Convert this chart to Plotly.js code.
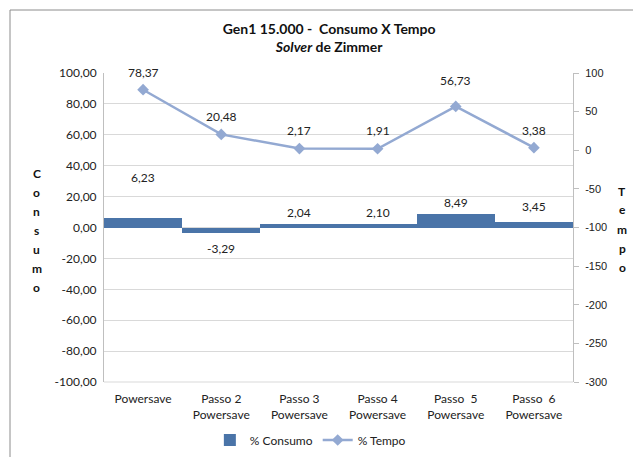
<!DOCTYPE html>
<html><head><meta charset="utf-8">
<script src="https://cdn.plot.ly/plotly-3.0.1.min.js"></script>
<style>body{margin:0;background:#fff}#c{width:633px;height:457px}</style>
</head><body><div id="c"></div>
<script>
const categories = ["Powersave","Passo 2<br>Powersave","Passo 3<br>Powersave","Passo 4<br>Powersave","Passo  5<br>Powersave","Passo  6<br>Powersave"];
const consumo = [6.23, -3.29, 2.04, 2.10, 8.49, 3.45];
const tempo = [78.37, 20.48, 2.17, 1.91, 56.73, 3.38];
const consumoLabelShift = [40, -16, 12, 12, 12, 16];
const tempoLabelShift = [17, 18, 18, 18, 26, 17];
const leftTicks = [100,80,60,40,20,0,-20,-40,-60,-80,-100];
const rightTicks = [100,50,0,-50,-100,-150,-200,-250,-300];

const FONT = "Lato, 'Open Sans', sans-serif";
const fmt = v => v.toFixed(2).replace('.', ',');

const barColor = '#4A74A8';
const lineColor = '#93A9D2';

const traces = [
  {type:'bar', x:categories, y:consumo, name:'% Consumo', marker:{color:barColor}, yaxis:'y', hoverinfo:'none'},
  {type:'scatter', mode:'lines+markers', x:categories, y:tempo, name:'% Tempo', yaxis:'y2',
   line:{color:lineColor, width:2.5}, marker:{symbol:'diamond', size:9, color:lineColor}, hoverinfo:'none'}
];

const annotations = [];
consumo.forEach((v,i)=>{
  annotations.push({x:categories[i], y:v, xref:'x', yref:'y', text:fmt(v), showarrow:false,
    yshift: consumoLabelShift[i], yanchor:'middle', font:{family:FONT,size:12,color:'#222'}});
});
tempo.forEach((v,i)=>{
  annotations.push({x:categories[i], y:v, xref:'x', yref:'y2', text:fmt(v), showarrow:false,
    yshift: tempoLabelShift[i], yanchor:'middle', font:{family:FONT,size:12,color:'#222'}});
});
// stacked-letter axis titles
"Consumo".split('').forEach((ch,i)=>{
  annotations.push({xref:'paper', yref:'paper', x:-0.143, y:(382-(173+i*19))/309, text:'<b>'+ch+'</b>',
    showarrow:false, xanchor:'center', yanchor:'middle', font:{family:FONT,size:12,color:'#111'}});
});
"Tempo".split('').forEach((ch,i)=>{
  annotations.push({xref:'paper', yref:'paper', x:1.1045, y:(382-(191+i*19))/309, text:'<b>'+ch+'</b>',
    showarrow:false, xanchor:'center', yanchor:'middle', font:{family:FONT,size:12,color:'#111'}});
});

const layout = {
  width:633, height:457,
  margin:{l:104, r:60, t:73, b:75, autoexpand:false},
  paper_bgcolor:'#fff', plot_bgcolor:'#fff',
  separators:',.',
  bargap:0,
  showlegend:true,
  legend:{orientation:'h', x:0.44, xanchor:'center', xref:'paper', yref:'container', y:(457-440)/457, yanchor:'middle',
    font:{family:FONT,size:12,color:'#222'}, traceorder:'normal', itemwidth:30},
  title:{text:'<b>Gen1 15.000 -  Consumo X Tempo<br><i>Solver</i> de Zimmer</b>', x:0.52, xanchor:'center', y:0.925, yanchor:'middle',
    font:{family:FONT,size:14,color:'#111'}},
  xaxis:{type:'category', showgrid:false, zeroline:false, showline:false, ticks:'', automargin:false, ticklabelstandoff:8,
    tickfont:{family:FONT,size:12,color:'#222'}, fixedrange:true},
  yaxis:{range:[-100,100], tickvals:leftTicks, ticktext:leftTicks.map(fmt), showgrid:true, gridcolor:'#D9D9D9', gridwidth:1,
    zeroline:false, showline:true, linecolor:'#BFBFBF', ticks:'', ticklen:0, automargin:false, ticklabelstandoff:4,
    tickfont:{family:FONT,size:12,color:'#222'}, fixedrange:true},
  yaxis2:{range:[-300,100], tickvals:rightTicks, ticktext:rightTicks.map(String), overlaying:'y', side:'right', showgrid:false, zeroline:false, automargin:false,
    showline:true, linecolor:'#BFBFBF', ticks:'outside', ticklen:5, tickcolor:'#BFBFBF', ticklabelstandoff:4,
    tickfont:{family:"'Liberation Sans', Arial, sans-serif",size:11,color:'#222'}, fixedrange:true},
  annotations: annotations,
  shapes:[
    {type:'line', xref:'paper', yref:'paper', x0:0, x1:1, y0:0, y1:0, line:{color:'#D9D9D9', width:1}},
    {type:'line', xref:'paper', yref:'paper', x0:-94/469, x1:-94/469, y0:-75/309, y1:(382-10)/309, line:{color:'#8C8C8C', width:1}},
    {type:'line', xref:'paper', yref:'paper', x0:-94/469, x1:(633-104)/469, y0:(382-10)/309, y1:(382-10)/309, line:{color:'#8C8C8C', width:1}}
  ]
};
Plotly.newPlot('c', traces, layout, {displayModeBar:false, staticPlot:true});
</script></body></html>
